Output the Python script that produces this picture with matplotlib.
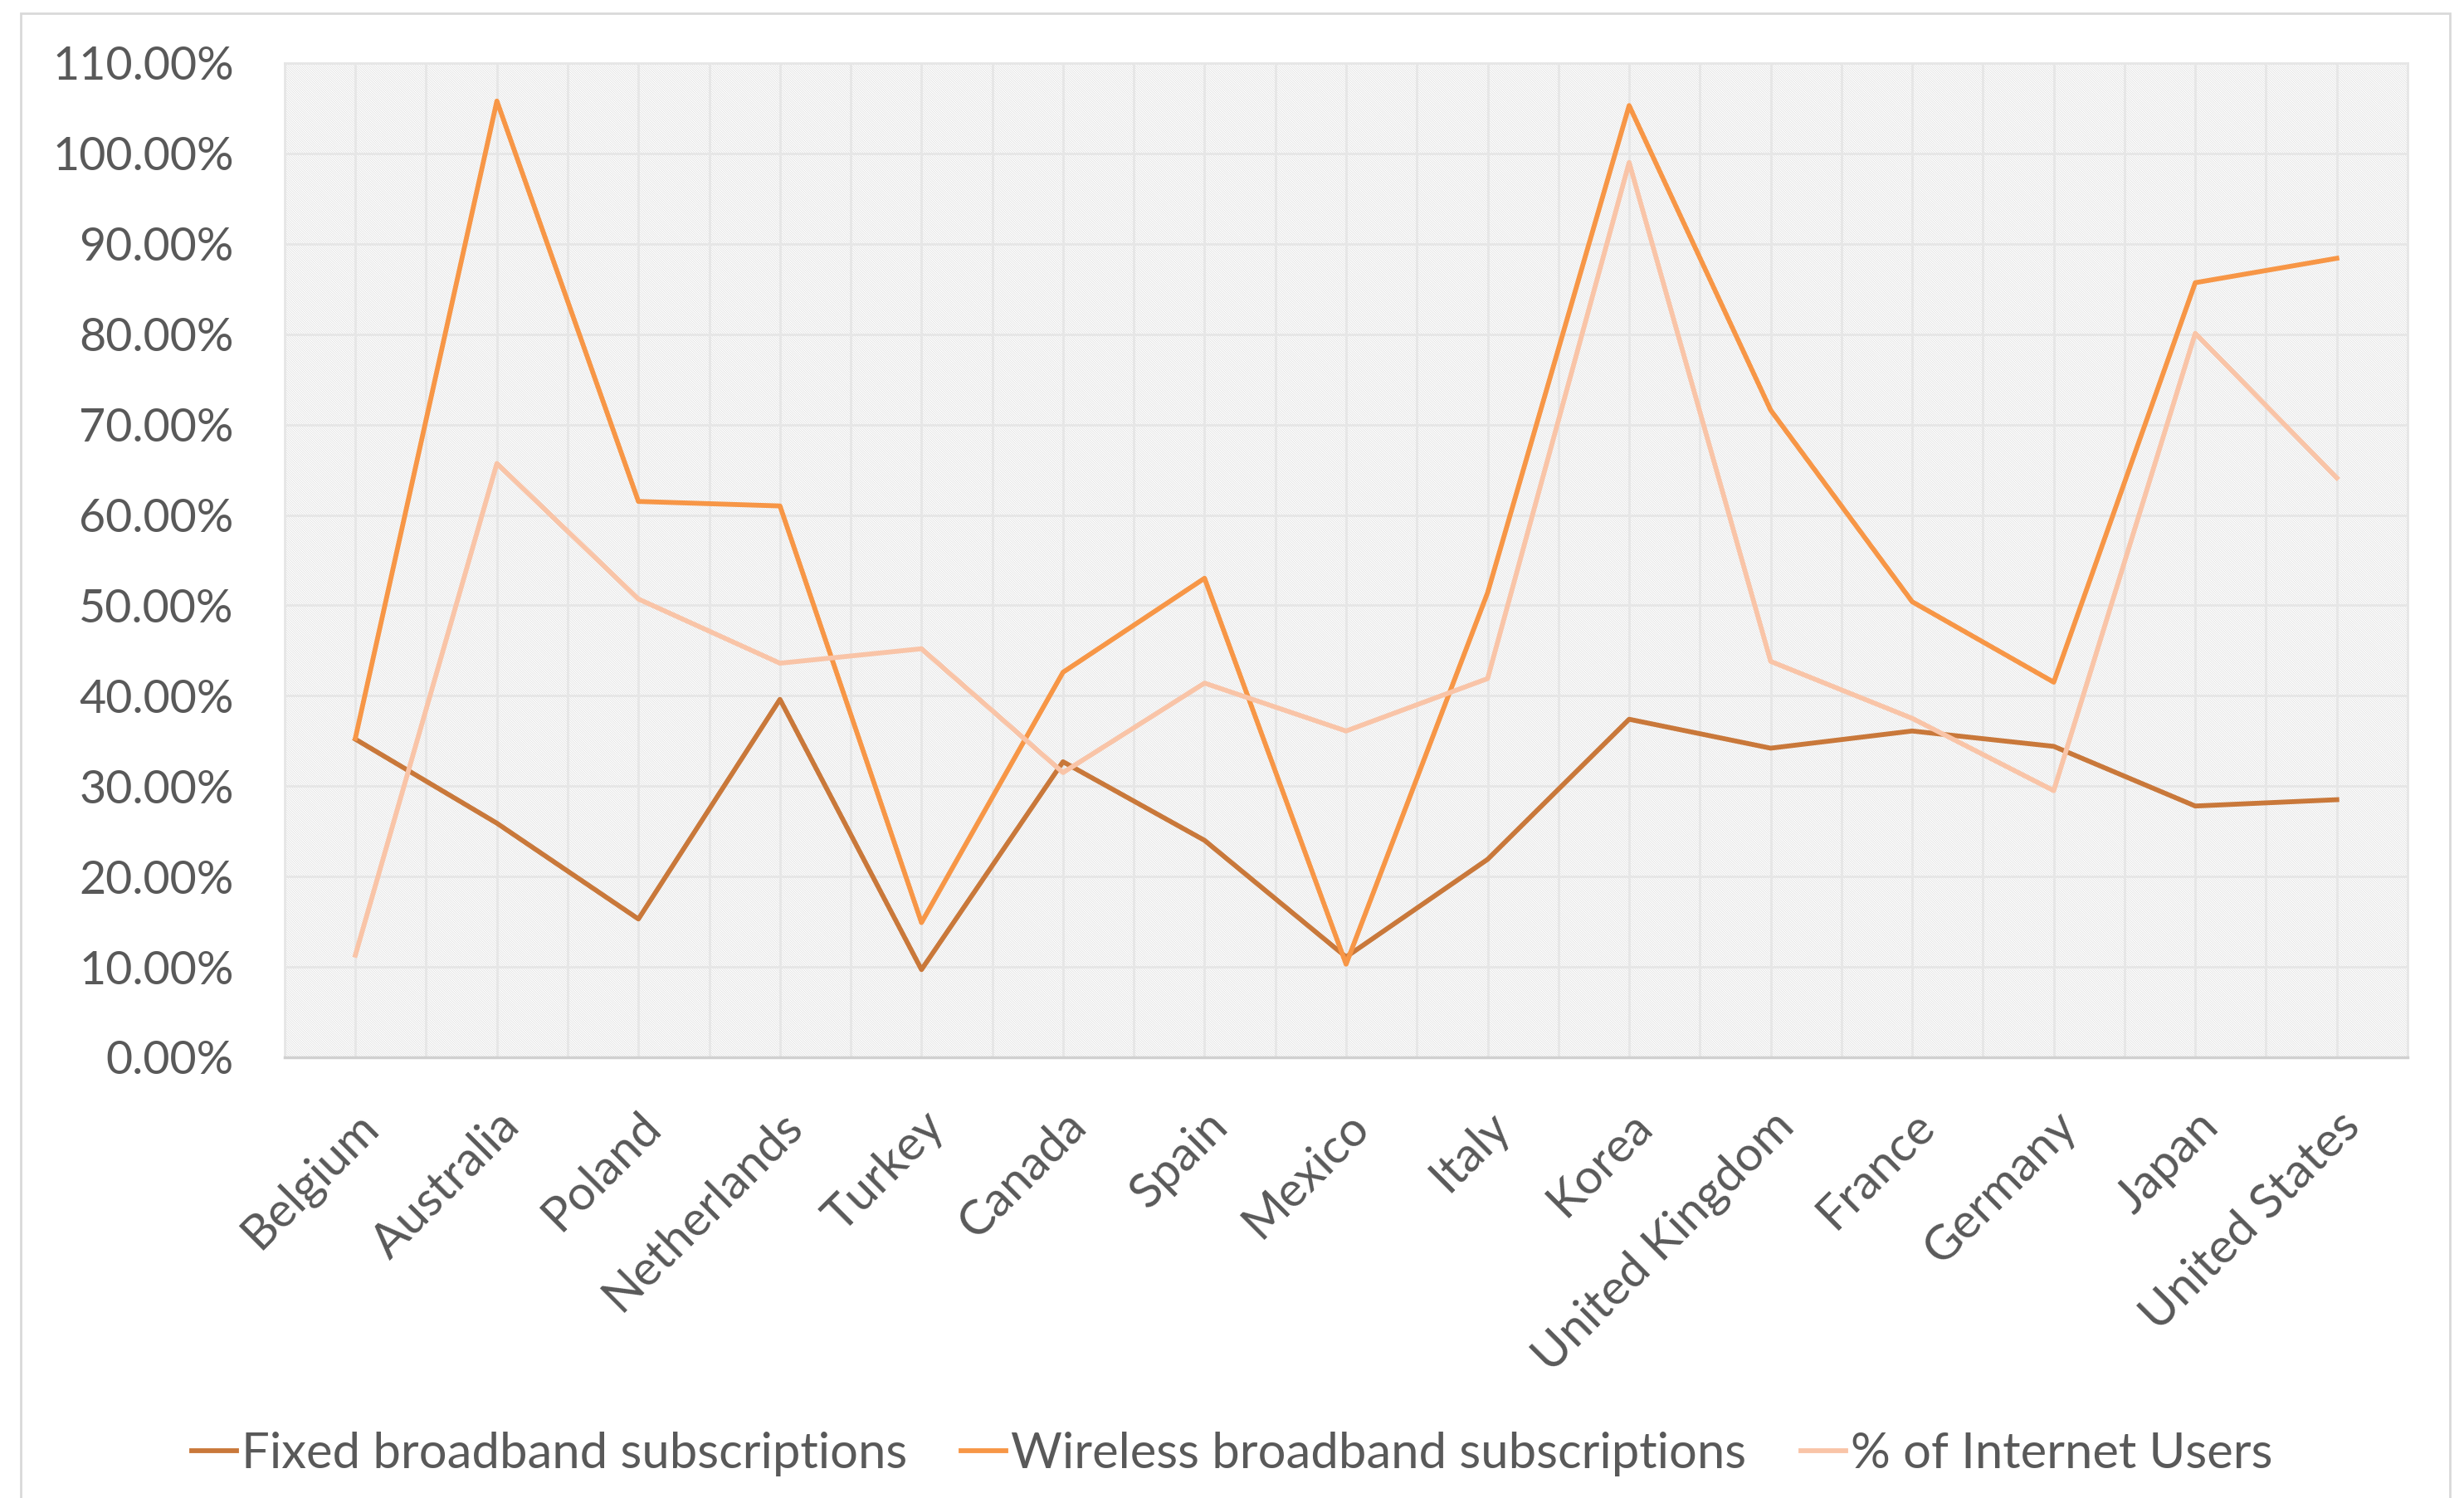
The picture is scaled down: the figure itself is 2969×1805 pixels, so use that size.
import numpy as np
import matplotlib.pyplot as plt
from matplotlib.patches import Rectangle
from matplotlib.ticker import FuncFormatter, MultipleLocator

# data (percent)
countries = ["Belgium", "Australia", "Poland", "Netherlands", "Turkey", "Canada",
             "Spain", "Mexico", "Italy", "Korea", "United Kingdom", "France",
             "Germany", "Japan", "United States"]
fixed = [35.2, 25.9, 15.3, 39.6, 9.7, 32.7, 24.0, 11.1, 21.9, 37.4, 34.2, 36.1, 34.4, 27.8, 28.5]
wireless = [35.3, 105.8, 61.5, 61.0, 14.9, 42.6, 53.0, 10.3, 51.4, 105.3, 71.6, 50.4, 41.5, 85.7, 88.4]
internet = [11.3, 65.7, 50.7, 43.6, 45.2, 31.5, 41.4, 36.1, 41.9, 99.0, 43.8, 37.5, 29.5, 80.1, 64.1]

plt.rcParams['font.family'] = ['Lato', 'DejaVu Sans']
plt.rcParams['hatch.color'] = '#dcdcdc'
plt.rcParams['hatch.linewidth'] = 0.5

text_col = '#595959'
grid_col = '#e6e6e6'

fig = plt.figure(figsize=(29.69, 18.05), dpi=100)
ax = fig.add_axes([0.1155, 0.2942, 0.9771 - 0.1155, 0.9579 - 0.2942])

# outer chart border
fig.patches.append(Rectangle((25 / 2969, -0.05), (2952 - 25) / 2969, 1 - 16 / 1805 + 0.05,
                             transform=fig.transFigure, fill=False,
                             edgecolor='#d9d9d9', linewidth=2))

# hatched plot area
ax.set_facecolor('white')
ax.add_patch(Rectangle((0, 0), 1, 1, transform=ax.transAxes, facecolor='white',
                       hatch='\\' * 12, edgecolor='#dcdcdc', linewidth=0, zorder=0))

x = np.arange(len(countries))
ax.plot(x, fixed, color='#c9783a', lw=4.2, label='Fixed broadband subscriptions', zorder=3)
ax.plot(x, wireless, color='#f79646', lw=4.2, label='Wireless broadband subscriptions', zorder=3)
ax.plot(x, internet, color='#f9c4a7', lw=4.2, label='% of Internet Users', zorder=3)

ax.set_xlim(-0.5, len(countries) - 0.5)
ax.set_ylim(0, 110)
ax.yaxis.set_major_locator(MultipleLocator(10))
ax.yaxis.set_major_formatter(FuncFormatter(lambda v, p: f"{v:.2f}%"))
ax.set_xticks(x)
ax.set_xticks(np.arange(-0.5, len(countries), 1.0), minor=True)
ax.set_xticklabels(countries, rotation=45, ha='right', rotation_mode='anchor')

ax.grid(axis='y', color=grid_col, lw=2, zorder=1)
ax.grid(axis='x', which='both', color=grid_col, lw=2, zorder=1)
ax.set_axisbelow(True)

ax.tick_params(axis='both', which='both', length=0, colors=text_col, labelsize=40)
ax.tick_params(axis='x', labelsize=42)
ax.tick_params(axis='y', pad=44)
ax.tick_params(axis='x', pad=40)
for s in ['top', 'left', 'right']:
    ax.spines[s].set_color(grid_col)
    ax.spines[s].set_linewidth(2)
ax.spines['bottom'].set_color('#d0d0d0')
ax.spines['bottom'].set_linewidth(2.5)

leg = fig.legend(loc='center', bbox_to_anchor=(0.5, 1 - 1752 / 1805), ncol=3, frameon=False,
                 fontsize=43, handlelength=0.9, handletextpad=0.1, columnspacing=1.1)
for t in leg.get_texts():
    t.set_color(text_col)

fig.savefig('out.png', dpi=100)
